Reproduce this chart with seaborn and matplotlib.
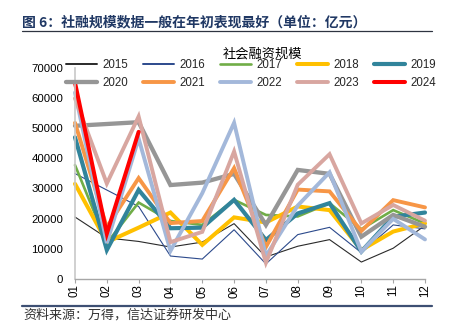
import numpy as np
import pandas as pd
import matplotlib
matplotlib.use("Agg")
import matplotlib.pyplot as plt
from matplotlib.lines import Line2D
import seaborn as sns

nan = np.nan
months = ["01", "02", "03", "04", "05", "06", "07", "08", "09", "10", "11", "12"]
years = ["2015", "2016", "2017", "2018", "2019", "2020", "2021", "2022", "2023", "2024"]

v2015 = [20516, 13609, 12433, 10582, 12219, 18324, 7300, 10838, 13032, 5612, 10184, 17700]
v2016 = [34900, nan, 24000, 7600, 6600, 16300, 5000, 14690, 17100, 8700, 17900, 16600]
v2017 = [37700, 11900, 25300, 19200, 17900, 26200, 21200, 20700, 25100, 16500, 22800, 18400]
v2018 = [31500, 12200, 17000, 22000, 11300, 20400, 18700, 24000, 22800, 9600, 15700, 18400]
v2019 = [46900, 9600, 29500, 16800, 17000, 26200, 12900, 21700, 25100, 9100, 20600, 22000]
v2020 = [50700, nan, 51900, 31100, 31900, 34800, 17900, 36100, 34800, 14000, 21200, 17300]
v2021 = [51700, 17100, 33400, 18500, 19200, 36700, 10600, 29600, 29000, 15900, 26100, 23700]
v2022 = [61700, 11900, 46500, 9300, 28400, 51700, 7600, 24300, 35300, 9100, 19900, 13100]
v2023 = [59800, 31600, 53800, 12200, 15600, 42200, 5400, 31200, 41300, 18400, 24500, 19300]
v2024 = [65000, 15000, 48700]

values = [v2015, v2016, v2017, v2018, v2019, v2020, v2021, v2022, v2023, v2024]

colors = ["#2a2a2a", "#2c4a8c", "#70ad47", "#ffc000", "#31849b",
          "#969696", "#f79646", "#a3b8da", "#d8a6a0", "#ff0000"]
widths = [0.8, 0.8, 1.9, 2.9, 3.0, 3.1, 2.8, 2.8, 2.8, 2.9]

sns.set_theme(style="white")
plt.rcParams["font.family"] = ["Liberation Sans", "Noto Sans CJK SC", "DejaVu Sans"]

W, H = 454, 336
fig = plt.figure(figsize=(W / 100, H / 100), dpi=100)
ax = fig.add_axes([75 / W, 1 - 279 / H, 350 / W, (279 - 67.5) / H])

for yr, vals, c, lw in zip(years, values, colors, widths):
    d = pd.DataFrame({"x": np.arange(len(vals)), "v": vals})
    sns.lineplot(data=d, x="x", y="v", color=c, linewidth=lw, ax=ax,
                 legend=False, estimator=None, sort=False)

for ln in ax.lines:
    ln.set_clip_on(False)
    ln.set_solid_joinstyle("miter")

ax.set_xlim(0, 11)
ax.set_ylim(0, 70000)
ax.set_xticks(range(12))
ax.set_xticklabels(months, rotation=90)
ax.set_yticks(range(0, 70001, 10000))
ax.set_yticklabels([str(v) for v in range(0, 70001, 10000)])
ax.set_xlabel("")
ax.set_ylabel("")
for s in ["top", "right"]:
    ax.spines[s].set_visible(False)
ax.spines["left"].set_color("#c8c8c8")
ax.spines["left"].set_linewidth(1.2)
ax.spines["bottom"].set_color("#a6a6a6")
ax.spines["bottom"].set_linewidth(1.0)
ax.tick_params(axis="x", bottom=True, length=3, width=0.8, color="#a6a6a6",
               pad=1, labelsize=8.3, labelcolor="#000000")
ax.tick_params(axis="y", left=False, length=0, pad=8.5, labelsize=8.2,
               labelcolor="#000000")
ax.set_facecolor("white")

# legend (row-major order)
order = [0, 5, 1, 6, 2, 7, 3, 8, 4, 9]
handles = [Line2D([0], [0], color=colors[i], lw=widths[i] + (0.6 if widths[i] < 1 else 0))
           for i in order]
labels = [years[i] for i in order]
fig.legend(handles, labels, loc="upper left", bbox_to_anchor=(66 / W, 1 - 59.5 / H),
           ncol=5, frameon=False, fontsize=8.3, handlelength=2.7,
           handletextpad=0.45, columnspacing=1.3, labelspacing=0.45,
           borderpad=0, borderaxespad=0)

# titles and decorations
fig.text(22 / W, 1 - 22 / H, "图 6：社融规模数据一般在年初表现最好（单位：亿元）",
         fontsize=10, fontweight="bold", color="#203864",
         family=["Noto Sans CJK SC", "DejaVu Sans"], va="center", ha="left")
fig.add_artist(Line2D([22 / W, 432 / W], [1 - 30.7 / H, 1 - 30.7 / H],
                      color="#2e3440", lw=0.9))
fig.text(262 / W, 1 - 54 / H, "社会融资规模", fontsize=9.5, color="#000000",
         family=["Noto Sans CJK SC", "DejaVu Sans"], va="center", ha="center")
fig.add_artist(Line2D([22 / W, 432 / W], [1 - 305.5 / H, 1 - 305.5 / H],
                      color="#3d4f73", lw=1.6))
fig.text(23 / W, 1 - 315 / H, "资料来源：万得，信达证券研发中心", fontsize=9.4,
         color="#333333", style="italic",
         family=["Noto Sans CJK SC", "DejaVu Sans"], va="center", ha="left")

fig.savefig("out.png", dpi=100, facecolor="white")
